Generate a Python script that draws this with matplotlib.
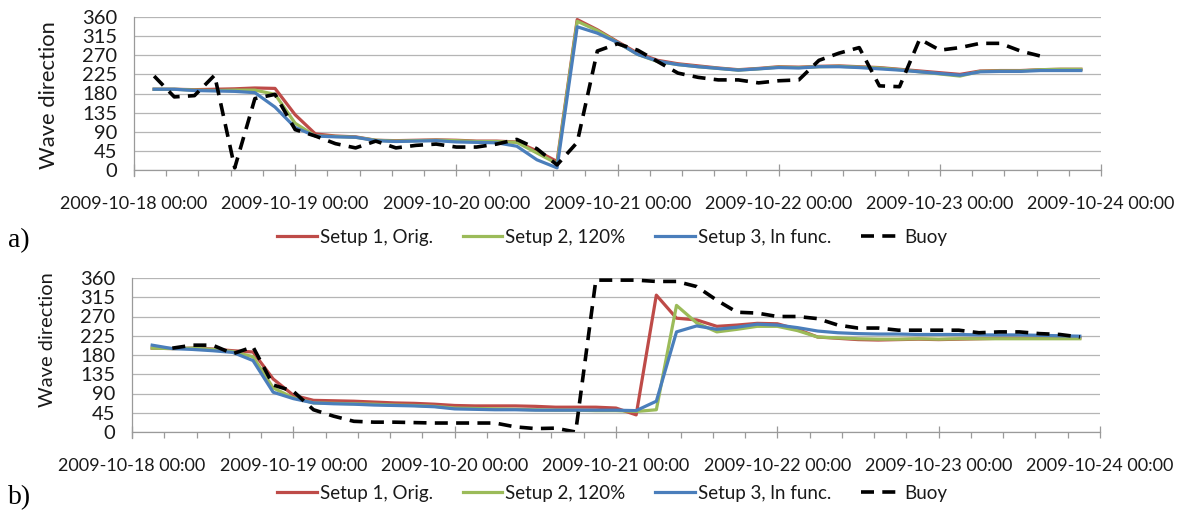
import numpy as np
import pandas as pd
import matplotlib
matplotlib.use("Agg")
import matplotlib.pyplot as plt
import matplotlib.dates as mdates
from matplotlib.ticker import MultipleLocator, FixedLocator

# ---- data -------------------------------------------------------------
times = pd.date_range("2009-10-18 03:00", periods=47, freq="3h")
nan = np.nan

a_setup1 = [190, 190, 189, 190, 191, 193, 192, 130, 85, 80, 78, 70, 69, 70, 71, 70,
            68, 68, 66, 45, 20, 354, 330, 302, 275, 258, 250, 245, 240, 236, 239, 243,
            242, 244, 245, 243, 241, 237, 233, 229, 225, 233, 234, 234, 236, 237, 237]
a_setup2 = [190, 190, 188, 187, 188, 188, 178, 110, 80, 79, 77, 70, 68, 69, 70, 69,
            67, 67, 65, 40, 15, 350, 328, 300, 272, 255, 248, 243, 239, 235, 238, 242,
            241, 243, 244, 242, 240, 236, 231, 226, 221, 232, 233, 233, 236, 237, 237]
a_setup3 = [190, 190, 187, 186, 185, 182, 148, 100, 80, 78, 77, 69, 67, 68, 69, 66,
            65, 64, 56, 24, 5, 337, 322, 300, 272, 256, 248, 243, 239, 235, 238, 241,
            240, 243, 243, 241, 238, 235, 231, 227, 223, 231, 232, 232, 234, 234, 234]
a_buoy = [221, 172, 175, 223, 5, 168, 178, 95, 80, 62, 52, 68, 52, 58, 61, 54,
          54, 61, 72, 50, 12, 65, 280, 297, 282, 255, 228, 218, 212, 212, 205, 210,
          212, 258, 275, 288, 198, 196, 308, 282, 288, 298, 298, 280, 268, nan, nan]

b_setup1 = [196, 195, 196, 194, 190, 187, 124, 86, 74, 73, 72, 70, 68, 67, 65, 62,
            61, 61, 61, 60, 58, 58, 58, 56, 40, 320, 266, 262, 247, 250, 254, 253,
            240, 222, 219, 216, 215, 216, 217, 216, 217, 218, 219, 219, 219, 219, 220]
b_setup2 = [196, 195, 196, 193, 188, 176, 103, 80, 68, 67, 66, 65, 63, 62, 60, 56,
            55, 54, 53, 52, 51, 51, 50, 50, 48, 52, 296, 255, 234, 240, 247, 247,
            237, 222, 220, 218, 217, 217, 218, 217, 218, 218, 218, 218, 218, 218, 218]
b_setup3 = [203, 195, 193, 190, 186, 167, 93, 78, 68, 66, 65, 63, 62, 61, 59, 54,
            53, 52, 52, 51, 51, 51, 51, 51, 50, 72, 234, 248, 240, 245, 252, 250,
            244, 236, 232, 230, 229, 229, 228, 228, 228, 227, 227, 227, 226, 225, 224]
b_buoy = [nan, 196, 203, 203, 183, 199, 110, 95, 52, 37, 25, 23, 23, 22, 21, 21,
          21, 21, 12, 8, 9, 0, 355, 355, 355, 352, 352, 340, 308, 280, 278, 270,
          270, 265, 250, 243, 243, 238, 238, 238, 238, 232, 234, 234, 230, 228, 222]

series_labels = ["Setup 1, Orig.", "Setup 2, 120%", "Setup 3, ln func.", "Buoy"]
y_ticks = [0, 45, 90, 135, 180, 225, 270, 315, 360]
x_start, x_end = "2009-10-18", "2009-10-24"

# ---- styling ----------------------------------------------------------
FONT = "Lato"
plt.rcParams["font.family"] = FONT
colors = ["#BE4B48", "#9BBB59", "#4A7EBB", "black"]
xtick_fs = 13
ytick_fs = 14.5
legend_fs = 13.5
text_color = "#1a1a1a"
W, H = 1183, 513

fig = plt.figure(figsize=(W / 100, H / 100), dpi=100)


def px_axes(left, top, right, bottom):
    return fig.add_axes([left / W, 1 - bottom / H, (right - left) / W, (bottom - top) / H])


def draw_panel(ax, s1, s2, s3, buoy, ylabel_xy, ylabel_fs):
    lines = []
    for vals, c in zip((s1, s2, s3), colors[:3]):
        ln, = ax.plot(times, vals, color=c, lw=2.3, solid_joinstyle="round")
        lines.append(ln)
    ln, = ax.plot(times, buoy, color="black", lw=2.6, dashes=(3.6, 2.3),
                  dash_capstyle="butt")
    lines.append(ln)

    ax.set_xlim(pd.Timestamp(x_start), pd.Timestamp(x_end))
    ax.set_ylim(0, 360)
    ax.yaxis.set_major_locator(FixedLocator(y_ticks))
    ax.grid(axis="y", color="#b5b5b5", lw=0.9)
    ax.set_axisbelow(True)
    for s in ("top", "right"):
        ax.spines[s].set_visible(False)
    for s in ("left", "bottom"):
        ax.spines[s].set_color("#9a9a9a")
        ax.spines[s].set_linewidth(0.9)
    ax.spines["left"].set_bounds(-0.04 * 360, 360)

    ax.xaxis.set_major_locator(mdates.DayLocator())
    ax.xaxis.set_major_formatter(mdates.DateFormatter("%Y-%m-%d %H:%M"))
    ax.xaxis.set_minor_locator(MultipleLocator(0.2))
    ax.tick_params(axis="x", which="major", direction="inout", length=9, width=0.9,
                   color="#9a9a9a", pad=14, labelsize=xtick_fs, labelcolor=text_color)
    ax.tick_params(axis="x", which="minor", direction="out", length=4, width=0.9,
                   color="#9a9a9a")
    ax.tick_params(axis="y", length=0, pad=12, labelsize=ytick_fs, labelcolor=text_color)
    ax.set_ylabel("Wave direction", fontsize=ylabel_fs, color=text_color)
    ax.yaxis.set_label_coords(*ylabel_xy)
    return lines


ax_a = px_axes(134, 17, 1101, 170)
lines = draw_panel(ax_a, a_setup1, a_setup2, a_setup3, a_buoy, (-0.078, 0.49), 15.8)
ax_b = px_axes(132, 278, 1100, 432)
draw_panel(ax_b, b_setup1, b_setup2, b_setup3, b_buoy, (-0.079, 0.60), 14.4)

for y_px in (237, 493):
    fig.legend(lines, series_labels, loc="center left", ncol=4,
               bbox_to_anchor=(277 / W, 1 - y_px / H), frameon=False,
               fontsize=legend_fs, handlelength=2.12, handletextpad=0.15,
               columnspacing=1.6, borderpad=0, borderaxespad=0,
               labelcolor=text_color)

fig.text(8 / W, 1 - 241 / H, "a)", family="Liberation Serif", fontsize=20,
         va="center", ha="left")
fig.text(8 / W, 1 - 498 / H, "b)", family="Liberation Serif", fontsize=20,
         va="center", ha="left")

fig.savefig("out.png", dpi=100)
